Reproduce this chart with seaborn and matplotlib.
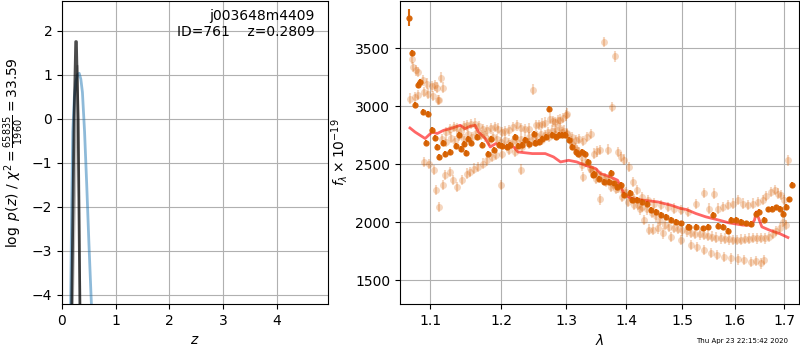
import numpy as np
import matplotlib
matplotlib.use("Agg")
import matplotlib.pyplot as plt
from matplotlib.ticker import FixedLocator, FormatStrFormatter, NullLocator
import seaborn as sns

# ---- p(z) panel ----
pz_z = [0.16, 0.18, 0.20, 0.23, 0.26, 0.29, 0.32, 0.35, 0.38, 0.42, 0.46, 0.50, 0.55]
pz_logp = [-4.3, -2.0, -0.3, 0.5, 0.85, 1.0, 1.03, 0.9, 0.6, -0.3, -1.5, -2.8, -4.3]

chi_z = [0.18, 0.225, 0.25, 0.255, 0.268, 0.273, 0.30, 0.333]
chi_logp = [-4.3, 0.0, 1.45, 1.75, 1.75, 1.45, 0.0, -4.3]
chi2_z = [0.20, 0.29, 0.34]
chi2_logp = [-4.3, 1.2, -4.3]

# ---- spectrum panel: three beams (faint) ----
wave_a = [1.075, 1.077, 1.081, 1.084, 1.090, 1.095, 1.102, 1.106, 1.109, 1.112,
          1.115, 1.117, 1.122, 1.127, 1.132, 1.137, 1.142, 1.146, 1.151, 1.156,
          1.162, 1.168, 1.174, 1.179, 1.185, 1.191, 1.196, 1.201, 1.206, 1.211,
          1.217, 1.224, 1.230, 1.236, 1.242, 1.248, 1.252, 1.257, 1.262, 1.267,
          1.274, 1.279, 1.283, 1.287, 1.291, 1.295, 1.299, 1.302, 1.310, 1.316,
          1.321, 1.327, 1.333, 1.340, 1.345, 1.351, 1.356, 1.362, 1.368, 1.376,
          1.380, 1.386, 1.391, 1.396, 1.405, 1.411, 1.419, 1.428, 1.437, 1.449,
          1.461, 1.473, 1.485, 1.497, 1.510, 1.525, 1.541, 1.550, 1.560, 1.567,
          1.576, 1.586, 1.596, 1.606, 1.616, 1.626, 1.636, 1.646, 1.656, 1.663,
          1.673, 1.680, 1.687, 1.694, 1.699, 1.708]
flux_a = [3411, 3339, 3310, 3296, 3224, 3196, 3172, 3181, 3161, 3052,
          3247, 3161, 2778, 2800, 2821, 2810, 2790, 2830, 2836, 2845,
          2851, 2830, 2800, 2793, 2810, 2821, 2807, 2778, 2785, 2793,
          2820, 2836, 2810, 2800, 2807, 3144, 2836, 2840, 2851, 2860,
          2894, 2870, 2865, 2879, 2885, 2900, 2922, 2937, 2735, 2707,
          2720, 2700, 2735, 2760, 2592, 2610, 2621, 3554, 2627, 2994,
          3430, 2606, 2563, 2540, 2477, 2347, 2276, 2218, 2190, 2161,
          2147, 2132, 2118, 2103, 2089, 2155, 2253, 2118, 2247, 2118,
          2132, 2147, 2161, 2190, 2161, 2147, 2161, 2175, 2190, 2224,
          2261, 2276, 2247, 2233, 2190, 2534]

wave_b = [1.073, 1.079, 1.084, 1.091, 1.097, 1.104, 1.110, 1.116, 1.122, 1.128,
          1.134, 1.140, 1.146, 1.152, 1.158, 1.164, 1.170, 1.176, 1.182, 1.188,
          1.194, 1.200, 1.206, 1.212, 1.218, 1.224, 1.230, 1.236, 1.242, 1.248,
          1.254, 1.260, 1.266, 1.272, 1.278, 1.284, 1.290, 1.296, 1.302, 1.308,
          1.314, 1.320, 1.326, 1.332, 1.338, 1.344, 1.350, 1.357, 1.364, 1.371,
          1.378, 1.385, 1.392, 1.399, 1.406, 1.413, 1.420, 1.428, 1.436, 1.444,
          1.452, 1.460, 1.468, 1.476, 1.484, 1.492, 1.500, 1.508, 1.516, 1.524,
          1.532, 1.540, 1.548, 1.556, 1.564, 1.572, 1.580, 1.588, 1.596, 1.604,
          1.612, 1.620, 1.628, 1.636, 1.644, 1.652, 1.660, 1.668, 1.676, 1.684,
          1.692, 1.698, 1.704]
flux_b = [3066, 3078, 3095, 3123, 3109, 3089, 3052, 2720, 2690, 2730,
          2700, 2745, 2720, 2760, 2735, 2770, 2750, 2740, 2700, 2735,
          2720, 2690, 2705, 2680, 2700, 2690, 2720, 2710, 2735, 2720,
          2745, 2760, 2750, 2775, 2790, 2800, 2810, 2790, 2770, 2700,
          2640, 2600, 2560, 2520, 2470, 2440, 2420, 2400, 2380, 2370,
          2330, 2300, 2280, 2260, 2230, 2200, 2150, 2130, 2110, 2080,
          2050, 2010, 1975, 1960, 1950, 1940, 1930, 1920, 1905, 1900,
          1895, 1888, 1880, 1875, 1868, 1860, 1858, 1852, 1848, 1845,
          1850, 1855, 1858, 1862, 1860, 1866, 1860, 1870, 1900, 1925,
          1950, 2000, 1975]

wave_c = [1.091, 1.098, 1.105, 1.108, 1.112, 1.117, 1.120, 1.127, 1.131, 1.136,
          1.143, 1.150, 1.155, 1.161, 1.167, 1.174, 1.180, 1.186, 1.193, 1.200,
          1.201, 1.211, 1.221, 1.230, 1.231, 1.242, 1.252, 1.262, 1.273, 1.283,
          1.294, 1.302, 1.310, 1.317, 1.325, 1.328, 1.340, 1.348, 1.355, 1.365,
          1.373, 1.382, 1.393, 1.402, 1.413, 1.424, 1.430, 1.440, 1.447, 1.455,
          1.465, 1.479, 1.497, 1.516, 1.528, 1.541, 1.553, 1.566, 1.579, 1.593,
          1.606, 1.619, 1.632, 1.642, 1.653, 1.659]
flux_c = [2520, 2500, 2448, 2276, 2130, 2319, 2405, 2434, 2362, 2304,
          2362, 2420, 2434, 2463, 2477, 2506, 2534, 2563, 2578, 2319,
          2592, 2621, 2606, 2454, 2649, 2678, 2692, 2707, 2735, 2765,
          2778, 2760, 2678, 2621, 2491, 2390, 2448, 2377, 2196, 2347,
          2304, 2290, 2218, 2175, 2147, 2110, 2017, 1937, 1937, 1946,
          1903, 1873, 1845, 1802, 1785, 1759, 1735, 1716, 1700, 1687,
          1680, 1672, 1658, 1665, 1644, 1672]

# ---- binned combined spectrum ----
wave_bin = [1.0713, 1.0757, 1.0794, 1.0838, 1.0861, 1.0906, 1.0943, 1.0969, 1.1023, 1.1059,
            1.1092, 1.1123, 1.1167, 1.1202, 1.1271, 1.1350, 1.1392, 1.1421, 1.1458, 1.1496,
            1.1528, 1.1566, 1.1648, 1.1720, 1.1802, 1.1851, 1.1889, 1.1964, 1.2014, 1.2088,
            1.2137, 1.2202, 1.2253, 1.2314, 1.2364, 1.2415, 1.2492, 1.2518, 1.2570, 1.2622,
            1.2674, 1.2736, 1.2779, 1.2831, 1.2884, 1.2937, 1.2979, 1.3043, 1.3098, 1.3152,
            1.3196, 1.3250, 1.3304, 1.3360, 1.3436, 1.3453, 1.3536, 1.3620, 1.3705, 1.3745,
            1.3790, 1.3847, 1.3915, 1.3960, 1.4064, 1.4106, 1.4193, 1.4279, 1.4368, 1.4427,
            1.4517, 1.4607, 1.4697, 1.4788, 1.4880, 1.4972, 1.5096, 1.5127, 1.5250, 1.5377,
            1.5472, 1.5569, 1.5665, 1.5763, 1.5860, 1.5925, 1.6024, 1.6123, 1.6223, 1.6323,
            1.6424, 1.6492, 1.6594, 1.6663, 1.6752, 1.6835, 1.6924, 1.6975, 1.7030, 1.7101,
            1.7172]
flux_bin = [3765, 3463, 3015, 3181, 3209, 2951, 2687, 2931, 2793, 2727,
            2649, 2563, 2684, 2586, 2606, 2655, 2750, 2629, 2672, 2597,
            2722, 2687, 2735, 2664, 2592, 2715, 2627, 2670, 2655, 2649,
            2664, 2735, 2655, 2664, 2707, 2672, 2765, 2681, 2692, 2722,
            2735, 2980, 2750, 2735, 2750, 2756, 2750, 2707, 2649, 2606,
            2592, 2606, 2592, 2520, 2405, 2420, 2377, 2347, 2347, 2425,
            2334, 2304, 2319, 2233, 2253, 2190, 2190, 2175, 2161, 2103,
            2089, 2060, 2046, 2017, 2003, 1989, 1960, 1960, 1960, 1946,
            1960, 2060, 1966, 1960, 1922, 2017, 2023, 2003, 1989, 1983,
            2075, 2089, 2023, 2110, 2118, 2127, 2118, 2075, 2132, 2196,
            2319]

# ---- best-fit template ----
wave_model = [1.0727, 1.0794, 1.0929, 1.1023, 1.1092, 1.1181, 1.1271, 1.1411, 1.1480, 1.1552,
              1.1623, 1.1670, 1.1770, 1.1840, 1.1920, 1.2050, 1.2190, 1.2250, 1.2470, 1.2670,
              1.2800, 1.2910, 1.3040, 1.3170, 1.3310, 1.3480, 1.3560, 1.3730, 1.3850, 1.3960,
              1.4080, 1.4300, 1.4550, 1.4790, 1.4970, 1.5070, 1.5250, 1.5440, 1.5700, 1.5890,
              1.6160, 1.6320, 1.6390, 1.6430, 1.6490, 1.6540, 1.6700, 1.6900, 1.7080]
flux_model = [2813, 2778, 2722, 2778, 2765, 2793, 2807, 2836, 2807, 2828,
              2836, 2778, 2722, 2649, 2678, 2649, 2649, 2606, 2592, 2592,
              2563, 2520, 2534, 2520, 2491, 2463, 2420, 2390, 2362, 2247,
              2204, 2190, 2175, 2147, 2118, 2110, 2075, 2046, 2017, 1994,
              1975, 1975, 2017, 2089, 2017, 1960, 1931, 1903, 1868]

err_faint = 45
err_bin = [75] + [25] * (len(wave_bin) - 1)

faint_color = "#d95f02"
bin_color = "#d66000"

fig = plt.figure(figsize=(8, 3.5), dpi=100)
ax1 = fig.add_axes([0.0775, 0.131, 0.3325, 0.866])
ax2 = fig.add_axes([0.5, 0.131, 0.4985, 0.866])

# left: redshift probability
sns.lineplot(x=pz_z, y=pz_logp, ax=ax1, sort=False, color="#1f77b4", alpha=0.5, lw=2)
sns.lineplot(x=chi2_z, y=chi2_logp, ax=ax1, sort=False, color="0.4", alpha=0.4, lw=1.5)
sns.lineplot(x=chi_z, y=chi_logp, ax=ax1, sort=False, color="k", alpha=0.7, lw=2)
ax1.set_xlim(0, 4.95)
ax1.set_ylim(-4.21, 2.67)
ax1.set_xticks([0, 1, 2, 3, 4])
ax1.grid(True)
ax1.set_xlabel("$z$")
ax1.set_ylabel(r"$\log\ p(z)$" + " / " + r"$\chi^2=\frac{65835}{1960}=33.59$")
ax1.text(0.95, 0.975, "j003648m4409\nID=761    z=0.2809", transform=ax1.transAxes,
         ha="right", va="top", fontsize=10)

# right: spectrum
for w, f in [(wave_a, flux_a), (wave_b, flux_b), (wave_c, flux_c)]:
    ax2.errorbar(w, f, yerr=err_faint, fmt="o", ms=5, color=faint_color,
                 alpha=0.25, elinewidth=1.5, capsize=0, mew=0)
ax2.errorbar(wave_bin, flux_bin, yerr=err_bin, fmt="o", ms=4.5, color=bin_color,
             alpha=0.95, elinewidth=1.5, capsize=0, mew=0)
sns.lineplot(x=wave_model, y=flux_model, ax=ax2, sort=False, color="r", alpha=0.6, lw=2)

ax2.set_xscale("log")
ax2.set_xlim(1.0596, 1.731)
ax2.set_ylim(1293, 3908)
ax2.xaxis.set_major_locator(FixedLocator([1.1, 1.2, 1.3, 1.4, 1.5, 1.6, 1.7]))
ax2.xaxis.set_major_formatter(FormatStrFormatter("%.1f"))
ax2.xaxis.set_minor_locator(NullLocator())
ax2.set_yticks([1500, 2000, 2500, 3000, 3500])
ax2.grid(True)
ax2.set_xlabel(r"$\lambda$")
ax2.set_ylabel(r"$f_\lambda \times 10^{-19}$")

fig.text(0.985, 0.025, "Thu Apr 23 22:15:42 2020", ha="right", va="center", fontsize=5)

fig.savefig("out.png", dpi=100)
